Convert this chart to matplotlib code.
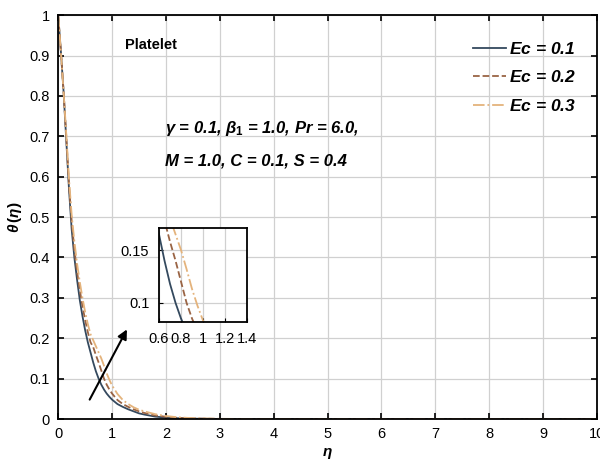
import matplotlib
matplotlib.use('Agg')
import matplotlib.pyplot as plt
import numpy as np

plt.rcParams['font.family'] = ['Liberation Sans', 'DejaVu Sans']
plt.rcParams['mathtext.fontset'] = 'custom'
plt.rcParams['mathtext.it'] = 'Liberation Sans:italic:bold'
plt.rcParams['mathtext.rm'] = 'Liberation Sans:bold'

# temperature profiles theta(eta) for three Eckert numbers
eta = [0, 0.05, 0.1, 0.15, 0.2, 0.25, 0.3, 0.35, 0.4, 0.45, 0.5, 0.55, 0.6,
       0.65, 0.7, 0.75, 0.8, 0.85, 0.9, 0.95, 1.0, 1.1, 1.2, 1.3, 1.4, 1.5,
       1.6, 1.8, 2.0, 2.2, 2.5, 3.0, 3.5, 4, 5, 6, 7, 8, 9, 10]
theta_ec1 = [1.0, 0.91, 0.81, 0.69, 0.57, 0.47, 0.40, 0.345, 0.295, 0.255,
             0.22, 0.19, 0.165, 0.14, 0.118, 0.10, 0.085, 0.073, 0.063, 0.055,
             0.048, 0.037, 0.030, 0.024, 0.019, 0.014, 0.011, 0.006, 0.0035,
             0.002, 0.0009, 0.0002, 0.00005, 0, 0, 0, 0, 0, 0, 0]
theta_ec2 = [1.0, 0.91, 0.81, 0.70, 0.58, 0.49, 0.42, 0.365, 0.32, 0.28,
             0.245, 0.215, 0.19, 0.178, 0.158, 0.14, 0.12, 0.10, 0.085, 0.073,
             0.063, 0.047, 0.037, 0.030, 0.024, 0.019, 0.015, 0.009, 0.0055,
             0.003, 0.0013, 0.0003, 0.0001, 0, 0, 0, 0, 0, 0, 0]
theta_ec3 = [1.0, 0.91, 0.81, 0.705, 0.595, 0.505, 0.44, 0.385, 0.34, 0.30,
             0.265, 0.235, 0.21, 0.195, 0.18, 0.165, 0.15, 0.132, 0.113, 0.097,
             0.083, 0.062, 0.047, 0.037, 0.029, 0.023, 0.019, 0.012, 0.0075,
             0.0045, 0.002, 0.0005, 0.0001, 0, 0, 0, 0, 0, 0, 0]
labels = ['$\\mathit{Ec}$ = 0.1', '$\\mathit{Ec}$ = 0.2', '$\\mathit{Ec}$ = 0.3']

colors = ['#34495e', '#9a6444', '#e4b37c']
styles = ['-', '--', '-.']
series = [theta_ec1, theta_ec2, theta_ec3]

fig = plt.figure(figsize=(6, 4.74), dpi=100)
ax = fig.add_axes([0.097, 0.116, 0.898, 0.852])

for y, c, ls, lab in zip(series, colors, styles, labels):
    ax.plot(eta, y, ls, color=c, lw=1.3, label=lab)

ax.set_xlim(0, 10)
ax.set_ylim(0, 1)
ax.set_xticks(range(0, 11))
ax.set_yticks(np.arange(0, 1.01, 0.1))
ax.set_yticklabels(['0', '0.1', '0.2', '0.3', '0.4', '0.5', '0.6', '0.7',
                    '0.8', '0.9', '1'])
ax.grid(True, color='#d0d0d0', lw=0.9)
ax.tick_params(direction='in', top=True, right=True, labelsize=10.5,
               length=4, width=1.2, pad=6)
for s in ax.spines.values():
    s.set_linewidth(1.3)
ax.set_xlabel('$\\eta$', fontsize=11, labelpad=3)
ax.set_ylabel('$\\theta\\,(\\eta)$', fontsize=11)

ax.text(1.24, 0.925, 'Platelet', fontsize=10.5, fontweight='bold',
        ha='left', va='center')
ax.text(1.99, 0.72, '$\\gamma$ = 0.1, $\\beta_1$ = 1.0, Pr = 6.0,',
        fontsize=12, fontstyle='italic', fontweight='bold', ha='left',
        va='center')
ax.text(1.99, 0.64, 'M = 1.0, C = 0.1, S = 0.4', fontsize=12,
        fontstyle='italic', fontweight='bold', ha='left', va='center')

leg = ax.legend(loc='upper right', frameon=False, fontsize=12.5,
                handlelength=1.9, handletextpad=0.15, labelspacing=0.72,
                borderaxespad=0.5, bbox_to_anchor=(0.99, 0.975))
for t in leg.get_texts():
    t.set_fontweight('bold')
    t.set_fontstyle('italic')

ax.annotate('', xy=(1.30, 0.228), xytext=(0.56, 0.042),
            arrowprops=dict(arrowstyle='-|>', color='black', lw=1.5,
                            mutation_scale=14))

# zoomed view of the profiles around eta = 1
ins = fig.add_axes([0.265, 0.321, 0.147, 0.198])
for y, c, ls in zip(series, colors, styles):
    ins.plot(eta, y, ls, color=c, lw=1.3)
ins.set_xlim(0.6, 1.4)
ins.set_ylim(0.082, 0.171)
ins.set_xticks([0.6, 0.8, 1.0, 1.2, 1.4])
ins.set_xticklabels(['0.6', '0.8', '1', '1.2', '1.4'])
ins.set_yticks([0.1, 0.15])
ins.set_yticklabels(['0.1', '0.15'])
ins.grid(True, color='#d0d0d0', lw=0.9)
ins.tick_params(direction='in', labelsize=10.5, length=3, pad=7)
for s in ins.spines.values():
    s.set_linewidth(1.3)

fig.savefig('out.png', dpi=100)
